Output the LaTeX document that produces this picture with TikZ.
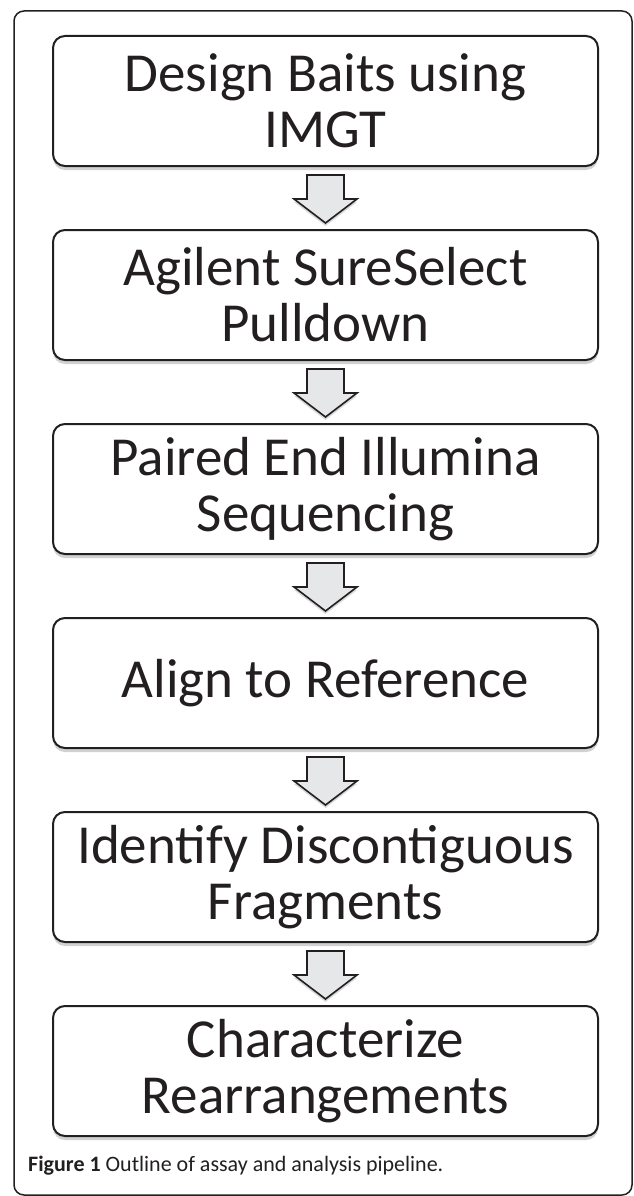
\documentclass[tikz,border=0pt]{standalone}
\usepackage{fontspec}
\setmainfont{Carlito}
\usetikzlibrary{calc,shadows}

\definecolor{inkgray}{HTML}{231F20}
\definecolor{arrowfill}{HTML}{E6E7E8}

\tikzset{
	stage/.style={draw=inkgray, line width=2pt, rounded corners=12pt, fill=white,
		minimum width=545pt, minimum height=130pt, align=center, text=inkgray,
		font=\fontsize{55}{56}\selectfont,
		drop shadow={shadow xshift=0pt, shadow yshift=-4pt, opacity=0.18, fill=black}},
	blockarrow/.style={draw=inkgray, line width=1.6pt, fill=arrowfill, line join=miter,
		drop shadow={shadow xshift=0pt, shadow yshift=-3pt, opacity=0.15, fill=black}}
}

% big hollow arrow from box #1 down to box #2
\newcommand{\stagearrow}[2]{
	\path[blockarrow] ($(#1.south)+(-18.5,8)$) -- ($(#1.south)+(18.5,8)$)
		-- ($(#1.south)+(18.5,32)$) -- ($(#1.south)+(31.5,32)$)
		-- ($(#2.north)+(0,-6)$)
		-- ($(#1.south)+(-31.5,32)$) -- ($(#1.south)+(-18.5,32)$) -- cycle;
}

\begin{document}
\begin{tikzpicture}[x=1pt, y=-1pt]
	\useasboundingbox (0,0) rectangle (633,1196);
	\draw[inkgray, line width=1.5pt, rounded corners=10pt] (14,11) rectangle (632,1195);

	\node (design) [stage] at (325.5,101) {Design Baits using\\IMGT};
	\node (pulldown) [stage] at (325.5,295) {Agilent SureSelect\\Pulldown};
	\node (seq) [stage] at (325.5,489) {Paired End Illumina\\Sequencing};
	\node (align) [stage] at (325.5,683) {Align to Reference};
	\node (frag) [stage] at (325.5,877) {Identify Discontiguous\\Fragments};
	\node (rearr) [stage] at (325.5,1071) {Characterize\\Rearrangements};

	\stagearrow{design}{pulldown}
	\stagearrow{pulldown}{seq}
	\stagearrow{seq}{align}
	\stagearrow{align}{frag}
	\stagearrow{frag}{rearr}

	\node (caption) [anchor=base west, inner sep=0pt, text=inkgray, font=\fontsize{22}{24}\selectfont] at (28,1171)
		{\textbf{Figure 1} Outline of assay and analysis pipeline.};
\end{tikzpicture}
\end{document}
